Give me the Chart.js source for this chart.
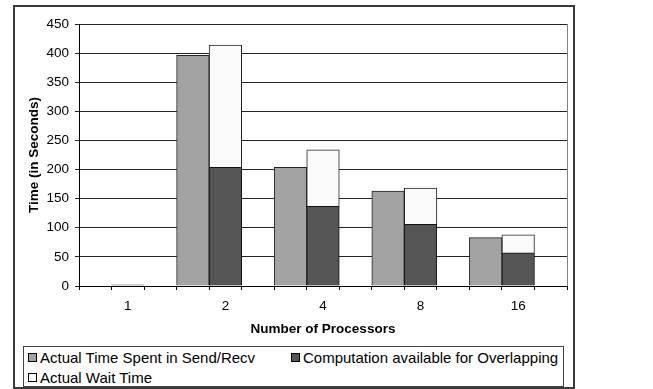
<!DOCTYPE html>
<html>
<head>
<meta charset="utf-8">
<script src="https://cdn.jsdelivr.net/npm/chart.js@4.4.1/dist/chart.umd.min.js"></script>
<style>
  html, body { margin: 0; padding: 0; background: #fff; }
  body { width: 653px; height: 389px; position: relative; overflow: hidden;
         font-family: "Liberation Sans", Arial, sans-serif; }
  #frame { position: absolute; left: 13px; top: 5px; width: 562px; height: 384px;
           border: 2px solid #3a3a3a; box-sizing: border-box; }
  #c { position: absolute; left: 0; top: 0; }
  #legend { position: absolute; left: 23px; top: 346px; width: 541px; height: 41px;
            border: 1px solid #444; box-sizing: border-box; background: #fff;
            font-size: 15px; color: #000; }
  .item { position: absolute; display: flex; align-items: center; white-space: nowrap; height: 18px; }
  .swatch { width: 7px; height: 7px; border: 1px solid #000; margin-right: 3px; flex: none; }
</style>
</head>
<body>
<div id="frame"></div>
<canvas id="c" width="653" height="389"></canvas>
<div id="legend"></div>
<script>
// Communication timings per processor count (seconds)
const processors = ['1', '2', '4', '8', '16'];
const sendRecv = [0, 396, 204, 163, 83];
const computeOverlap = [0, 204, 137, 106, 57];
const waitTime = [2, 210, 97, 62, 31];
const yTickStep = 50;
const yMax = 450;

// Each processor count occupies three slots: Send/Recv bar, stacked bar, gap.
const slotLabels = [];
const sendSlots = [];
const computeSlots = [];
const waitSlots = [];
processors.forEach((p, i) => {
  slotLabels.push('', p, '');
  sendSlots.push(sendRecv[i], null, null);
  computeSlots.push(null, computeOverlap[i], null);
  waitSlots.push(null, waitTime[i], null);
});

const FONT = '"Liberation Sans", Arial, sans-serif';

const plotBorder = {
  id: 'plotBorder',
  beforeDatasetsDraw(chart) {
    const a = chart.chartArea;
    const ctx = chart.ctx;
    ctx.save();
    ctx.strokeStyle = '#808080';
    ctx.lineWidth = 1;
    ctx.beginPath();
    ctx.moveTo(Math.round(a.right) + 0.5, a.top);
    ctx.lineTo(Math.round(a.right) + 0.5, a.bottom);
    ctx.stroke();
    ctx.restore();
  }
};

const chart = new Chart(document.getElementById('c'), {
  type: 'bar',
  data: {
    labels: slotLabels,
    datasets: [
      { label: 'Actual Time Spent in Send/Recv', data: sendSlots,
        backgroundColor: '#a3a3a3', borderColor: '#222', borderWidth: 1 },
      { label: 'Computation available for Overlapping', data: computeSlots,
        backgroundColor: '#555555', borderColor: '#111', borderWidth: 1 },
      { label: 'Actual Wait Time', data: waitSlots,
        backgroundColor: '#fafafa', borderColor: '#222', borderWidth: 1 }
    ]
  },
  options: {
    responsive: false,
    animation: false,
    datasets: { bar: { barPercentage: 1, categoryPercentage: 1 } },
    layout: { padding: { left: 22, top: 24, right: 86, bottom: 52 } },
    plugins: { legend: { display: false }, tooltip: { enabled: false } },
    scales: {
      x: {
        stacked: true,
        offset: true,
        grid: { offset: true, drawOnChartArea: false, drawTicks: true, tickLength: 4, color: '#000' },
        border: { color: '#000', width: 1 },
        ticks: { autoSkip: false, maxRotation: 0, padding: 8, color: '#000',
                 font: { family: FONT, size: 13.5 } },
        title: { display: true, text: 'Number of Processors', color: '#000',
                 padding: { top: 0, bottom: 0 },
                 font: { family: FONT, size: 13.5, weight: 'bold' } },
        afterFit(scale) { scale.height = 51; }
      },
      y: {
        stacked: true,
        min: 0, max: yMax,
        grid: { color: '#222', tickLength: 4, drawTicks: true },
        border: { color: '#000', width: 1 },
        ticks: { stepSize: yTickStep, padding: 6, color: '#000',
                 font: { family: FONT, size: 13.5 } },
        title: { display: true, text: 'Time (in Seconds)', color: '#000',
                 padding: { top: 4, bottom: 0 },
                 font: { family: FONT, size: 13.5, weight: 'bold' } },
        afterFit(scale) { scale.width = 57; }
      }
    }
  },
  plugins: [plotBorder]
});

// Legend built from the chart's datasets, laid out in two columns.
const legendPos = [[4, 1], [267, 1], [4, 21]];
const legendEl = document.getElementById('legend');
chart.data.datasets.forEach((ds, i) => {
  const item = document.createElement('div');
  item.className = 'item';
  item.style.left = legendPos[i][0] + 'px';
  item.style.top = legendPos[i][1] + 'px';
  const sw = document.createElement('span');
  sw.className = 'swatch';
  sw.style.background = ds.backgroundColor;
  const tx = document.createElement('span');
  tx.textContent = ds.label;
  item.appendChild(sw);
  item.appendChild(tx);
  legendEl.appendChild(item);
});
</script>
</body>
</html>
